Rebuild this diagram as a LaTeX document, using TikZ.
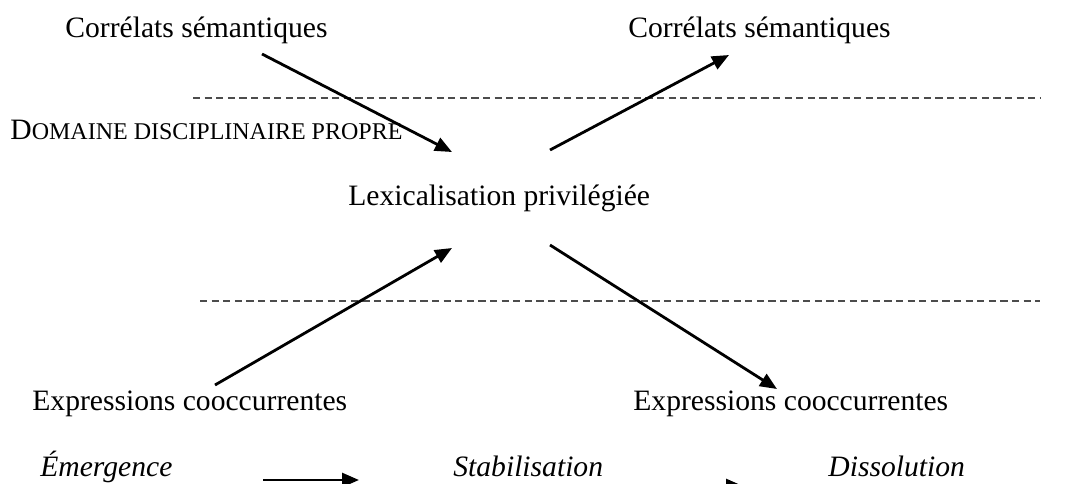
\documentclass[tikz,border=0pt]{standalone}
\usepackage{fontspec}
\setmainfont{Liberation Serif}
\usetikzlibrary{arrows.meta}

\begin{document}
\begin{tikzpicture}[x=0.5pt, y=-0.5pt,
        etichetta/.style={anchor=base west, inner sep=0pt, font=\fontsize{14.8}{17}\selectfont},
        fase/.style={etichetta, font=\fontsize{14.8}{17}\selectfont\itshape},
        freccia/.style={-{Triangle[length=8.5pt,width=7pt]}, line width=1.4pt},
        separatore/.style={black!70, line width=0.9pt, dash pattern=on 3.6pt off 2.2pt}]
        \useasboundingbox (0,0) rectangle (1066,483);

        % Separatori (tratteggiati)
        \coordinate (s1a) at (193,98);
        \coordinate (s1b) at (1040,98);
        \coordinate (s2a) at (200,301);
        \coordinate (s2b) at (1040,301);
        \draw[separatore] (s1a) -- (s1b);
        \draw[separatore] (s2a) -- (s2b);

        % Etichette
        \node[etichetta] (corr1) at (65,37) {Corrélats sémantiques};
        \node[etichetta] (corr2) at (628,37) {Corrélats sémantiques};
        \node[etichetta] (dom) at (10,139) {D{\fontsize{12}{14}\selectfont OMAINE DISCIPLINAIRE PROPRE}};
        \node[etichetta] (lex) at (348,205) {Lexicalisation privilégiée};
        \node[etichetta] (expr1) at (32,410) {Expressions cooccurrentes};
        \node[etichetta] (expr2) at (633,410) {Expressions cooccurrentes};

        % Fasi
        \node[fase] (emer) at (40,476) {Émergence};
        \node[fase] (stab) at (453,476) {Stabilisation};
        \node[fase] (diss) at (828,476) {Dissolution};

        % Frecce diagonali
        \coordinate (a1) at (262,54);
        \coordinate (b1) at (452,152);
        \coordinate (a2) at (550,150);
        \coordinate (b2) at (729,55);
        \coordinate (a3) at (215,385);
        \coordinate (b3) at (452,248);
        \coordinate (a4) at (550,245);
        \coordinate (b4) at (777,389);
        \draw[freccia] (a1) -- (b1);
        \draw[freccia] (a2) -- (b2);
        \draw[freccia] (a3) -- (b3);
        \draw[freccia] (a4) -- (b4);

        % Frecce fra le fasi
        \coordinate (f1a) at (263,480);
        \coordinate (f1b) at (359,480);
        \coordinate (f2a) at (647,486);
        \coordinate (f2b) at (743,486);
        \draw[freccia] (f1a) -- (f1b);
        \draw[freccia] (f2a) -- (f2b);

    \end{tikzpicture}
\end{document}
